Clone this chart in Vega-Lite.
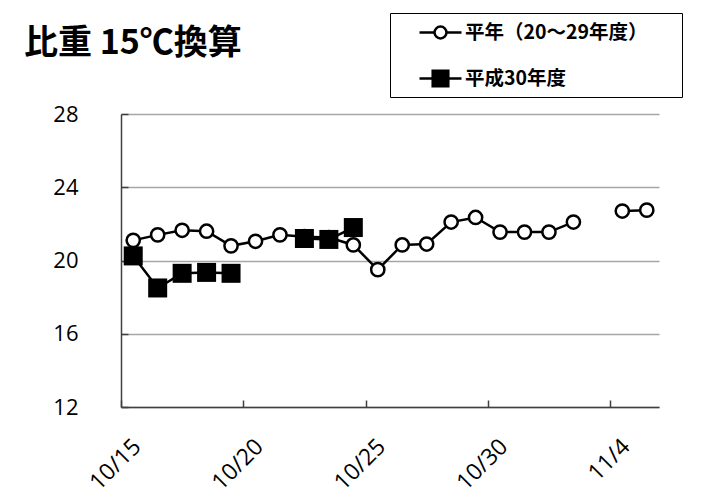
{
  "$schema": "https://vega.github.io/schema/vega-lite/v6.json",
  "autosize": {"type": "none"},
  "padding": {"left": 121, "top": 114, "right": 45, "bottom": 96},
  "width": 538,
  "height": 293,
  "background": "white",
  "title": {
    "text": "比重 15℃換算",
    "anchor": "start",
    "frame": "group",
    "font": "Noto Sans CJK JP",
    "fontSize": 34,
    "fontWeight": "bold",
    "color": "black",
    "dx": -97,
    "offset": -48
  },
  "config": {
    "view": {"stroke": null},
    "font": "Open Sans"
  },
  "data": {
    "values": [
      {"date": "2018-10-15", "series": "平年（20～29年度）", "value": 21.1},
      {"date": "2018-10-16", "series": "平年（20～29年度）", "value": 21.4},
      {"date": "2018-10-17", "series": "平年（20～29年度）", "value": 21.65},
      {"date": "2018-10-18", "series": "平年（20～29年度）", "value": 21.6},
      {"date": "2018-10-19", "series": "平年（20～29年度）", "value": 20.8},
      {"date": "2018-10-20", "series": "平年（20～29年度）", "value": 21.05},
      {"date": "2018-10-21", "series": "平年（20～29年度）", "value": 21.4},
      {"date": "2018-10-22", "series": "平年（20～29年度）", "value": 21.3},
      {"date": "2018-10-23", "series": "平年（20～29年度）", "value": 21.25},
      {"date": "2018-10-24", "series": "平年（20～29年度）", "value": 20.85},
      {"date": "2018-10-25", "series": "平年（20～29年度）", "value": 19.5},
      {"date": "2018-10-26", "series": "平年（20～29年度）", "value": 20.85},
      {"date": "2018-10-27", "series": "平年（20～29年度）", "value": 20.9},
      {"date": "2018-10-28", "series": "平年（20～29年度）", "value": 22.1},
      {"date": "2018-10-29", "series": "平年（20～29年度）", "value": 22.35},
      {"date": "2018-10-30", "series": "平年（20～29年度）", "value": 21.55},
      {"date": "2018-10-31", "series": "平年（20～29年度）", "value": 21.55},
      {"date": "2018-11-01", "series": "平年（20～29年度）", "value": 21.55},
      {"date": "2018-11-02", "series": "平年（20～29年度）", "value": 22.1},
      {"date": "2018-11-03", "series": "平年（20～29年度）", "value": null},
      {"date": "2018-11-04", "series": "平年（20～29年度）", "value": 22.7},
      {"date": "2018-11-05", "series": "平年（20～29年度）", "value": 22.75},
      {"date": "2018-10-15", "series": "平成30年度", "value": 20.25},
      {"date": "2018-10-16", "series": "平成30年度", "value": 18.5},
      {"date": "2018-10-17", "series": "平成30年度", "value": 19.3},
      {"date": "2018-10-18", "series": "平成30年度", "value": 19.35},
      {"date": "2018-10-19", "series": "平成30年度", "value": 19.3},
      {"date": "2018-10-20", "series": "平成30年度", "value": null},
      {"date": "2018-10-21", "series": "平成30年度", "value": null},
      {"date": "2018-10-22", "series": "平成30年度", "value": 21.2},
      {"date": "2018-10-23", "series": "平成30年度", "value": 21.15},
      {"date": "2018-10-24", "series": "平成30年度", "value": 21.8}
    ]
  },
  "encoding": {
    "x": {
      "field": "date",
      "type": "temporal",
      "scale": {
        "type": "utc",
        "domain": [
          {"year": 2018, "month": 10, "date": 14, "hours": 12, "utc": true},
          {"year": 2018, "month": 11, "date": 5, "hours": 12, "utc": true}
        ]
      },
      "axis": {
        "title": null,
        "grid": false,
        "values": [
          {"year": 2018, "month": 10, "date": 15, "utc": true},
          {"year": 2018, "month": 10, "date": 20, "utc": true},
          {"year": 2018, "month": 10, "date": 25, "utc": true},
          {"year": 2018, "month": 10, "date": 30, "utc": true},
          {"year": 2018, "month": 11, "date": 4, "utc": true}
        ],
        "labelExpr": "utcFormat(datum.value, '%-m/%-d')",
        "domainColor": "#404040",
        "domainWidth": 1.5,
        "tickColor": "#404040",
        "tickWidth": 1.5,
        "tickSize": -7,
        "tickOffset": -12.23,
        "labelOffset": 8,
        "labelAngle": -45,
        "labelAlign": "right",
        "labelBaseline": "top",
        "labelFont": "Open Sans",
        "labelFontSize": 23,
        "labelColor": "black",
        "labelPadding": 35,
        "labelFlush": false,
        "labelOverlap": false
      }
    },
    "y": {
      "field": "value",
      "type": "quantitative",
      "scale": {"domain": [12, 28], "nice": false, "zero": false},
      "axis": {
        "title": null,
        "values": [12, 16, 20, 24, 28],
        "grid": true,
        "gridColor": "#a6a6a6",
        "gridWidth": 1.3,
        "domainColor": "#404040",
        "domainWidth": 1.5,
        "tickColor": "#404040",
        "tickWidth": 1.5,
        "tickSize": -7,
        "labelFont": "Open Sans",
        "labelFontSize": 22,
        "labelColor": "black",
        "labelPadding": 50
      }
    }
  },
  "layer": [
    {
      "transform": [{"filter": "datum.series === '平年（20～29年度）'"}],
      "mark": {"type": "line", "color": "black", "strokeWidth": 2.5, "invalid": "break-paths-show-domains"}
    },
    {
      "transform": [{"filter": "datum.series === '平年（20～29年度）' && isValid(datum.value)"}],
      "mark": {"type": "point", "shape": "circle", "size": 175, "filled": true, "fill": "white", "stroke": "black", "strokeWidth": 2.5, "opacity": 1}
    },
    {
      "transform": [{"filter": "datum.series === '平成30年度'"}],
      "mark": {"type": "line", "color": "black", "strokeWidth": 2.5, "invalid": "break-paths-show-domains"}
    },
    {
      "transform": [{"filter": "datum.series === '平成30年度' && isValid(datum.value)"}],
      "mark": {"type": "point", "shape": "square", "size": 361, "filled": true, "fill": "black", "stroke": null, "opacity": 1}
    },
    {
      "transform": [{"filter": "isValid(datum.value)"}],
      "mark": {"type": "point", "size": 0, "filled": false, "stroke": "black", "strokeWidth": 2.5},
      "encoding": {
        "shape": {
          "field": "series",
          "type": "nominal",
          "scale": {
            "domain": ["平年（20～29年度）", "平成30年度"],
            "range": [
              "M-1.615,0L-0.46,0M0.46,0L1.615,0M-0.46,0A0.46,0.46 0 1,1 0.46,0A0.46,0.46 0 1,1 -0.46,0Z",
              "M-1.615,0L-0.6,0M0.6,0L1.615,0M-0.6,-0.6L0.6,-0.6L0.6,0.6L-0.6,0.6ZM-0.6,-0.45L0.6,-0.45M-0.6,-0.3L0.6,-0.3M-0.6,-0.15L0.6,-0.15M-0.6,0L0.6,0M-0.6,0.15L0.6,0.15M-0.6,0.3L0.6,0.3M-0.6,0.45L0.6,0.45"
            ]
          },
          "legend": {
            "title": "\u3000",
            "titleOrient": "right",
            "titleFont": "Noto Sans CJK JP",
            "titleFontSize": 18,
            "titlePadding": 29,
            "orient": "none",
            "legendX": 269,
            "legendY": -101,
            "strokeColor": "black",
            "padding": 5,
            "symbolSize": 676,
            "symbolStrokeColor": "black",
            "symbolFillColor": "white",
            "symbolStrokeWidth": 2.5,
            "symbolOpacity": 1,
            "symbolOffset": 31,
            "labelOffset": 10,
            "labelFont": "Noto Sans CJK JP",
            "labelFontSize": 19.5,
            "labelFontWeight": "bold",
            "labelColor": "black",
            "labelLimit": 400,
            "rowPadding": 20
          }
        }
      }
    }
  ]
}
